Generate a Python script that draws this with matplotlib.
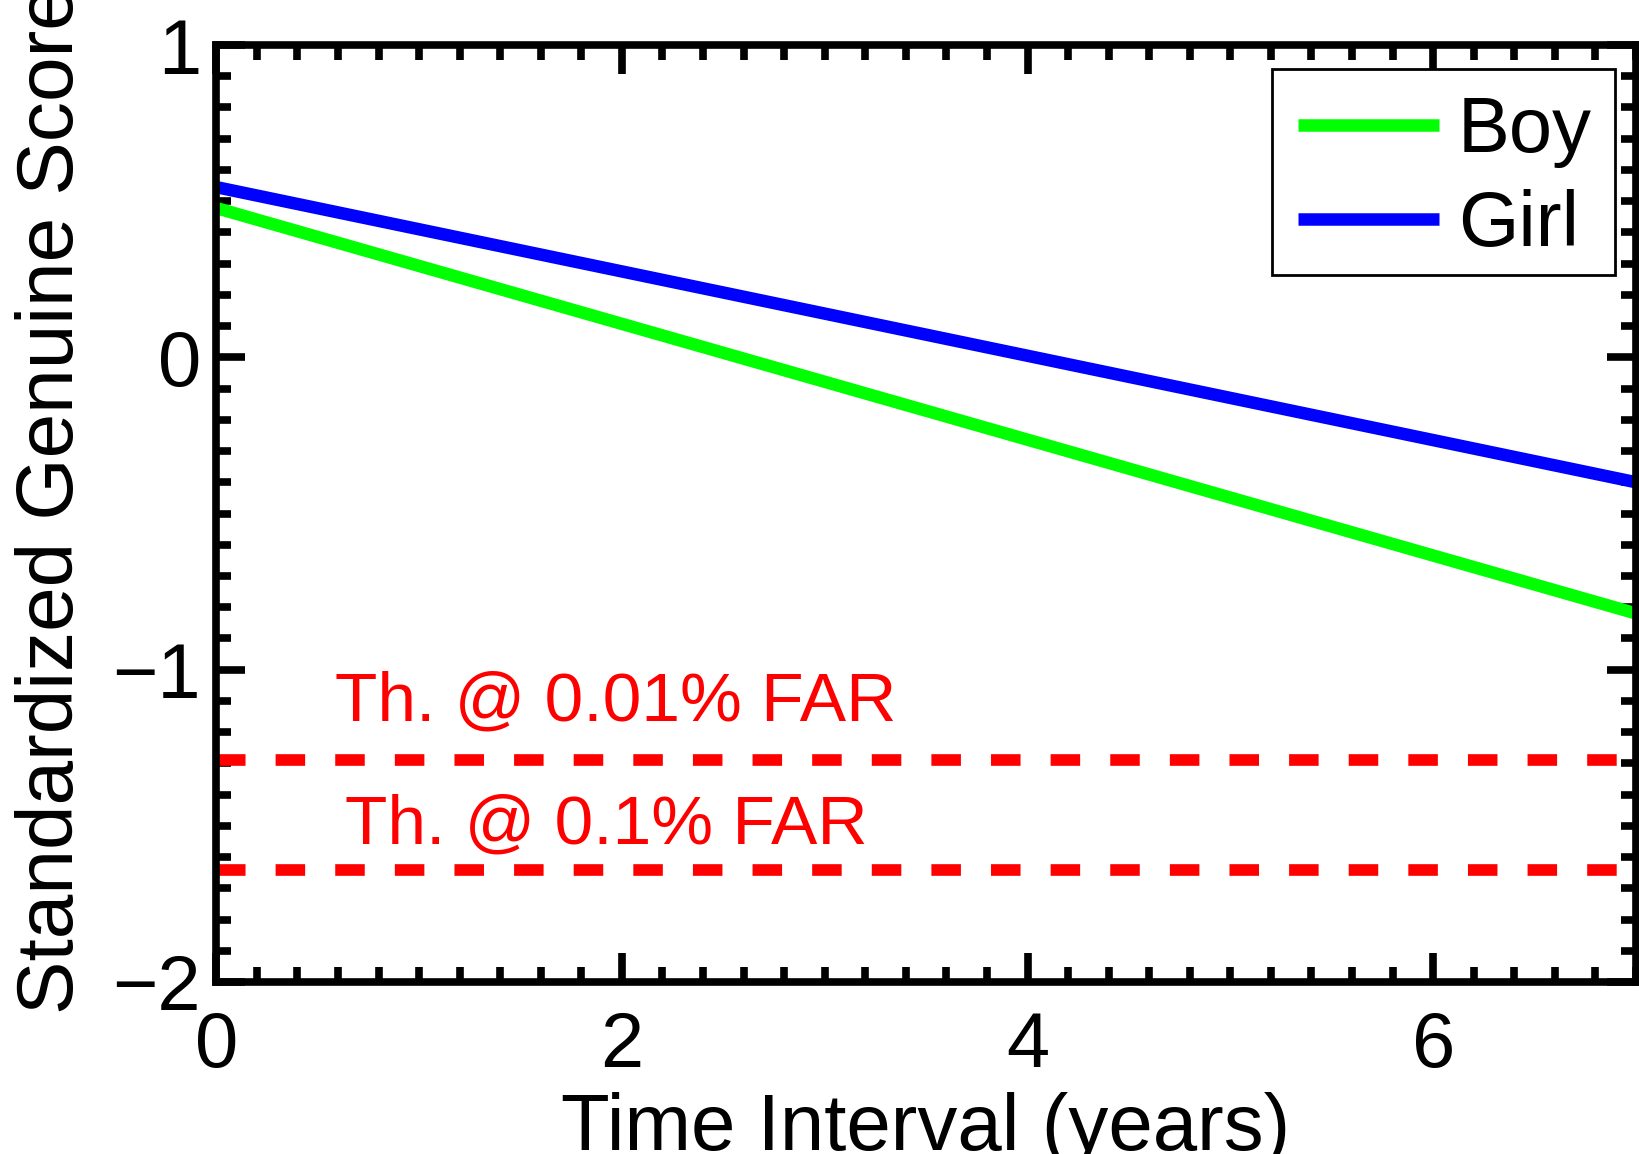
import matplotlib
matplotlib.use("Agg")
import matplotlib.pyplot as plt
from matplotlib.ticker import MultipleLocator
from matplotlib.patches import Rectangle

plt.rcParams['font.family'] = ['Liberation Sans', 'DejaVu Sans']

# Data
years = [0, 7]
boy = [0.478, -0.82]
girl = [0.545, -0.40]
thresholds = [-1.29, -1.64]
threshold_labels = ["Th. @ 0.01% FAR", "Th. @ 0.1% FAR"]
threshold_label_x = [1.97, 1.925]
threshold_label_y = [-1.162, -1.557]
series_labels = ["Boy", "Girl"]

W, H = 1639, 1154
fig = plt.figure(figsize=(W / 100, H / 100), dpi=100)
ax = fig.add_axes([216.3 / W, 1 - 982 / H, (1636 - 216.3) / W, (982 - 45) / H])

ax.plot(years, boy, color=(0, 1, 0), lw=9, label=series_labels[0], solid_capstyle='butt')
ax.plot(years, girl, color=(0, 0, 1), lw=9, label=series_labels[1], solid_capstyle='butt')
for t in thresholds:
    ax.plot(years, [t, t], color=(1, 0, 0), lw=8.4, dashes=(2.53, 2.58), dash_capstyle='butt')
for lab, tx, ty in zip(threshold_labels, threshold_label_x, threshold_label_y):
    ax.text(tx, ty, lab, color=(1, 0, 0), fontsize=50, ha='center', va='baseline')

ax.set_xlim(0, 7)
ax.set_ylim(-2, 1)
ax.xaxis.set_major_locator(MultipleLocator(2))
ax.xaxis.set_minor_locator(MultipleLocator(0.2))
ax.yaxis.set_major_locator(MultipleLocator(1))
ax.yaxis.set_minor_locator(MultipleLocator(0.1))
for s in ax.spines.values():
    s.set_linewidth(5.5)
ax.tick_params(which='both', direction='in', top=True, right=True, width=5.5)
ax.tick_params(which='major', length=21, labelsize=56)
ax.tick_params(which='minor', length=10.5)
ax.tick_params(axis='x', which='major', pad=20)
ax.tick_params(axis='y', which='major', pad=11)

# legend frame drawn separately, legend content placed inside it
frame = Rectangle((1272 / W, 1 - 275 / H), (1615 - 1272) / W, (275 - 69) / H,
                  transform=fig.transFigure, facecolor='white', edgecolor='black',
                  lw=2, zorder=4, clip_on=False)
ax.add_patch(frame)
leg = ax.legend(loc='center', bbox_to_anchor=(1445 / W, 1 - 178.8 / H),
                bbox_transform=fig.transFigure, borderaxespad=0, borderpad=0,
                fontsize=56, handlelength=1.81, handletextpad=0.245,
                labelspacing=0.27, frameon=False)
leg.set_zorder(6)

fig.text(73 / W, 1 - 1014 / H, "Standardized Genuine Score", fontsize=57.7,
         rotation=90, rotation_mode='anchor', ha='left', va='baseline')
fig.text(926 / W, 4 / H, "Time Interval (years)", fontsize=57.5, ha='center', va='baseline')

fig.savefig("out.png", dpi=100)
